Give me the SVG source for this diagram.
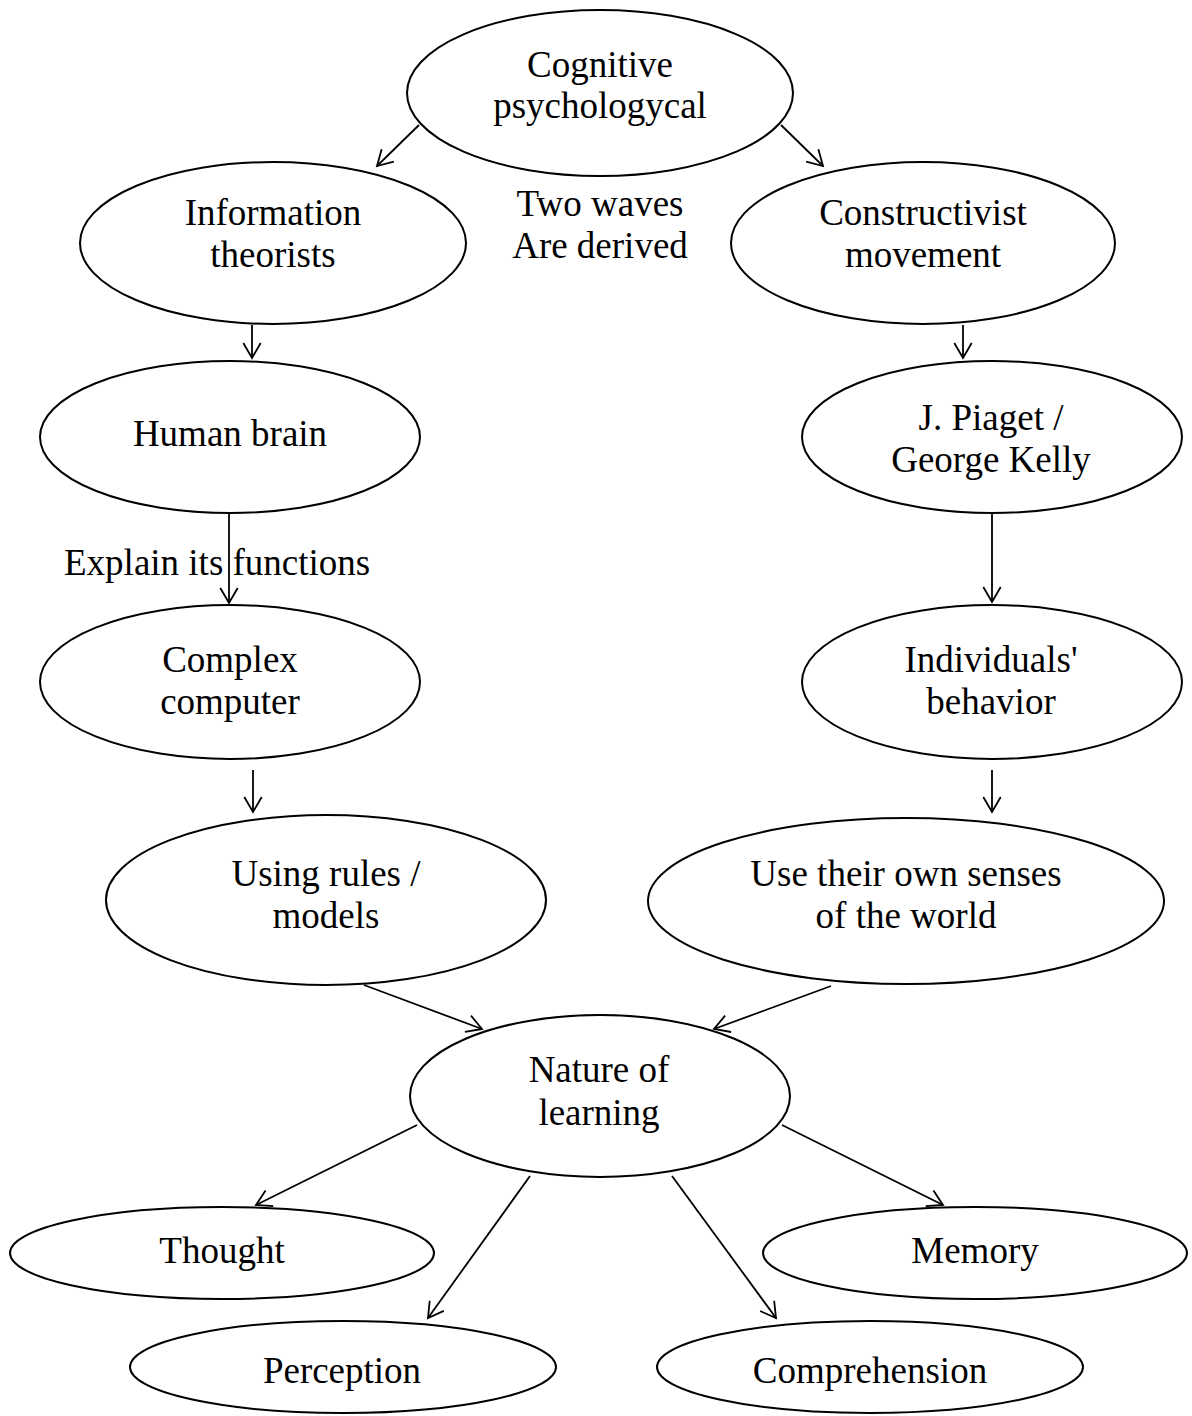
<svg xmlns="http://www.w3.org/2000/svg" width="1192" height="1416" viewBox="0 0 1192 1416">
  <defs>
    <!-- open V arrowhead, tip at the line end -->
    <marker id="arrow" viewBox="-20 -12 24 24" refX="0" refY="0" markerWidth="24" markerHeight="24" markerUnits="userSpaceOnUse" orient="auto">
      <path d="M-15,-8.7 L0,0 L-15,8.7" fill="none" stroke="#000" stroke-width="1.8" stroke-linejoin="miter"/>
    </marker>
    <style>
      .node ellipse { fill: #fff; stroke: #000; stroke-width: 2; }
      text { font-family: "Liberation Serif", "Times New Roman", serif; font-size: 37px; fill: #000; text-anchor: middle; }
      .edge { stroke: #000; stroke-width: 1.8; fill: none; marker-end: url(#arrow); }
    </style>
  </defs>
  <rect width="1192" height="1416" fill="#fff"/>

  <!-- connectors -->
  <g id="connectors">
    <line class="edge" x1="419" y1="125" x2="377" y2="166"/>
    <line class="edge" x1="781" y1="125" x2="823" y2="166"/>
    <line class="edge" x1="252" y1="325" x2="252" y2="358"/>
    <line class="edge" x1="963" y1="325" x2="963" y2="358"/>
    <line class="edge" x1="229" y1="514" x2="229" y2="603"/>
    <line class="edge" x1="992" y1="514" x2="992" y2="602"/>
    <line class="edge" x1="253" y1="770" x2="253" y2="812"/>
    <line class="edge" x1="992" y1="770" x2="992" y2="812"/>
    <line class="edge" x1="364" y1="985" x2="482" y2="1029"/>
    <line class="edge" x1="831" y1="986" x2="714" y2="1029"/>
    <line class="edge" x1="417" y1="1125" x2="256" y2="1205"/>
    <line class="edge" x1="530" y1="1176" x2="428" y2="1318"/>
    <line class="edge" x1="672" y1="1176" x2="776" y2="1318"/>
    <line class="edge" x1="782" y1="1125" x2="943" y2="1205"/>
  </g>

  <!-- edge labels -->
  <text id="label-waves" x="600" y="216">Two waves<tspan x="600" y="258">Are derived</tspan></text>
  <text id="label-explain" x="64" y="575" style="text-anchor:start">Explain its functions</text>

  <!-- nodes -->
  <g id="n-cognitive" class="node">
    <ellipse cx="600" cy="93" rx="193" ry="83"/>
    <text x="600" y="77">Cognitive<tspan x="600" y="118">psychologycal</tspan></text>
  </g>
  <g id="n-information" class="node">
    <ellipse cx="273" cy="243" rx="193" ry="81"/>
    <text x="273" y="225">Information<tspan x="273" y="267">theorists</tspan></text>
  </g>
  <g id="n-constructivist" class="node">
    <ellipse cx="923" cy="243" rx="192" ry="81"/>
    <text x="923" y="225">Constructivist<tspan x="923" y="267">movement</tspan></text>
  </g>
  <g id="n-brain" class="node">
    <ellipse cx="230" cy="437" rx="190" ry="76"/>
    <text x="230" y="446">Human brain</text>
  </g>
  <g id="n-piaget" class="node">
    <ellipse cx="992" cy="437" rx="190" ry="76"/>
    <text x="991" y="430">J. Piaget /<tspan x="991" y="472">George Kelly</tspan></text>
  </g>
  <g id="n-computer" class="node">
    <ellipse cx="230" cy="682" rx="190" ry="77"/>
    <text x="230" y="672">Complex<tspan x="230" y="714">computer</tspan></text>
  </g>
  <g id="n-individuals" class="node">
    <ellipse cx="992" cy="682" rx="190" ry="77"/>
    <text x="991" y="672">Individuals'<tspan x="991" y="714">behavior</tspan></text>
  </g>
  <g id="n-rules" class="node">
    <ellipse cx="326" cy="900" rx="220" ry="85"/>
    <text x="326" y="886">Using rules /<tspan x="326" y="928">models</tspan></text>
  </g>
  <g id="n-senses" class="node">
    <ellipse cx="906" cy="901" rx="258" ry="83"/>
    <text x="906" y="886">Use their own senses<tspan x="906" y="928">of the world</tspan></text>
  </g>
  <g id="n-nature" class="node">
    <ellipse cx="600" cy="1096" rx="190" ry="81"/>
    <text x="599" y="1082">Nature of<tspan x="599" y="1125">learning</tspan></text>
  </g>
  <g id="n-thought" class="node">
    <ellipse cx="222" cy="1253" rx="212" ry="46"/>
    <text x="222" y="1263">Thought</text>
  </g>
  <g id="n-memory" class="node">
    <ellipse cx="975" cy="1253" rx="212" ry="46"/>
    <text x="975" y="1263">Memory</text>
  </g>
  <g id="n-perception" class="node">
    <ellipse cx="343" cy="1367" rx="213" ry="46"/>
    <text x="342" y="1383">Perception</text>
  </g>
  <g id="n-comprehension" class="node">
    <ellipse cx="870" cy="1367" rx="213" ry="46"/>
    <text x="870" y="1383">Comprehension</text>
  </g>
</svg>
